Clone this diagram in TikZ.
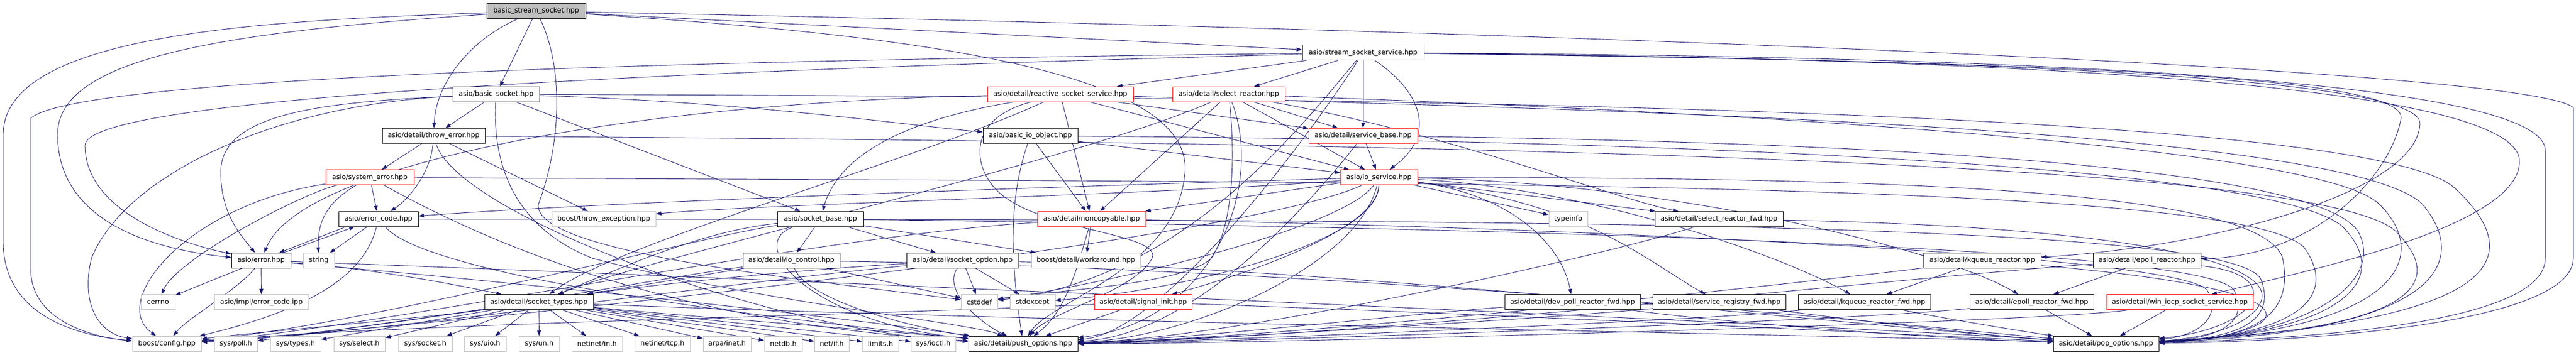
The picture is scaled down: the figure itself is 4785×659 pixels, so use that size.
\documentclass[tikz,border=0pt]{standalone}
\usepackage{fontspec}
\setmainfont{DejaVu Sans}
\usetikzlibrary{arrows.meta}
\pgfdeclarelayer{bg}
\pgfsetlayers{bg,main}
\definecolor{ecol}{HTML}{191970}
\definecolor{gbord}{HTML}{BFBFBF}
\definecolor{rbord}{HTML}{FF0000}
\tikzset{
 box/.style={draw=black, fill=white, line width=1pt, inner sep=0pt, minimum height=28pt, font=\fontsize{12.7}{15}\selectfont, text=black},
 gbox/.style={box, draw=gbord},
 rbox/.style={box, draw=rbord},
 e/.style={draw=ecol, line width=0.9pt, -{Triangle[length=10pt,width=7pt]}},
}
\begin{document}
\begin{tikzpicture}[x=1pt,y=-1pt]
\useasboundingbox (0,0) rectangle (4785,659);
% row 0
\node[box, fill=gbord, minimum width=184pt] (bss) at (996,20.6) {basic\_stream\_socket.hpp};
% row 1
\node[box, minimum width=226pt] (sss) at (2532,97.9) {asio/stream\_socket\_service.hpp};
% row 2
\node[box, minimum width=161pt] (bs) at (921.5,175.2) {asio/basic\_socket.hpp};
\node[rbox, minimum width=271pt] (rss) at (1969.5,175.2) {asio/detail/reactive\_socket\_service.hpp};
\node[rbox, minimum width=209pt] (sr) at (2282.5,175.2) {asio/detail/select\_reactor.hpp};
% row 3
\node[box, minimum width=191pt] (te) at (805.5,252.5) {asio/detail/throw\_error.hpp};
\node[box, minimum width=176pt] (bio) at (1914,252.5) {asio/basic\_io\_object.hpp};
\node[rbox, minimum width=202pt] (sb) at (2532,252.5) {asio/detail/service\_base.hpp};
% row 4
\node[rbox, minimum width=164pt] (se) at (687,329.8) {asio/system\_error.hpp};
\node[rbox, minimum width=143pt] (ios) at (2561.5,329.8) {asio/io\_service.hpp};
% row 5
\node[box, minimum width=148pt] (ec) at (703,407.1) {asio/error\_code.hpp};
\node[gbox, minimum width=193pt] (bte) at (1121.5,407.1) {boost/throw\_exception.hpp};
\node[box, minimum width=160pt] (sbase) at (1524,407.1) {asio/socket\_base.hpp};
\node[rbox, minimum width=201pt] (nc) at (2027.5,407.1) {asio/detail/noncopyable.hpp};
\node[gbox, minimum width=72pt] (ti) at (2913,407.1) {typeinfo};
\node[box, minimum width=238pt] (srf) at (3193,407.1) {asio/detail/select\_reactor\_fwd.hpp};
% row 6
\node[box, minimum width=110pt] (err) at (485,484.4) {asio/error.hpp};
\node[gbox, minimum width=58pt] (str) at (592,484.4) {string};
\node[box, minimum width=180pt] (ioc) at (1470,484.4) {asio/detail/io\_control.hpp};
\node[box, minimum width=208pt] (so) at (1788,484.4) {asio/detail/socket\_option.hpp};
\node[gbox, minimum width=202pt] (wa) at (2017,484.4) {boost/detail/workaround.hpp};
\node[box, minimum width=218pt] (kr) at (3682,484.4) {asio/detail/kqueue\_reactor.hpp};
\node[box, minimum width=200pt] (er) at (3988,484.4) {asio/detail/epoll\_reactor.hpp};
% row 7
\node[gbox, minimum width=63pt] (cerrno) at (293.5,561.7) {cerrno};
\node[gbox, minimum width=175pt] (ecipp) at (485.5,561.7) {asio/impl/error\_code.ipp};
\node[box, minimum width=202pt] (st) at (1001,561.7) {asio/detail/socket\_types.hpp};
\node[gbox, minimum width=68pt] (cstddef) at (1819,561.7) {cstddef};
\node[gbox, minimum width=84pt] (stdexcept) at (1918,561.7) {stdexcept};
\node[rbox, minimum width=181pt] (si) at (2123.5,561.7) {asio/detail/signal\_init.hpp};
\node[box, minimum width=252pt] (dprf) at (2921,561.7) {asio/detail/dev\_poll\_reactor\_fwd.hpp};
\node[box, minimum width=247pt] (srgf) at (3193.5,561.7) {asio/detail/service\_registry\_fwd.hpp};
\node[box, minimum width=246pt] (krf) at (3463,561.7) {asio/detail/kqueue\_reactor\_fwd.hpp};
\node[box, minimum width=230pt] (erf) at (3774,561.7) {asio/detail/epoll\_reactor\_fwd.hpp};
\node[rbox, minimum width=272pt] (wiss) at (4049,561.7) {asio/detail/win\_iocp\_socket\_service.hpp};
% row 8
\node[gbox, minimum width=128pt] (bc) at (310,639) {boost/config.hpp};
\node[gbox, minimum width=80pt] (poll) at (438,639) {sys/poll.h};
\node[gbox, minimum width=94pt] (types) at (549,639) {sys/types.h};
\node[gbox, minimum width=95pt] (select) at (667.5,639) {sys/select.h};
\node[gbox, minimum width=100pt] (socket) at (790,639) {sys/socket.h};
\node[gbox, minimum width=78pt] (uio) at (901,639) {sys/uio.h};
\node[gbox, minimum width=75pt] (un) at (1001.5,639) {sys/un.h};
\node[gbox, minimum width=94pt] (in) at (1109,639) {netinet/in.h};
\node[gbox, minimum width=103pt] (tcp) at (1230.5,639) {netinet/tcp.h};
\node[gbox, minimum width=89pt] (inet) at (1350.5,639) {arpa/inet.h};
\node[gbox, minimum width=70pt] (netdb) at (1455,639) {netdb.h};
\node[gbox, minimum width=64pt] (if) at (1545,639) {net/if.h};
\node[gbox, minimum width=67pt] (limits) at (1635.5,639) {limits.h};
\node[gbox, minimum width=83pt] (ioctl) at (1733.5,639) {sys/ioctl.h};
\node[box, minimum width=203pt] (push) at (1900.5,639) {asio/detail/push\_options.hpp};
\node[box, minimum width=196pt] (pop) at (3912,639) {asio/detail/pop\_options.hpp};

\begin{pgfonlayer}{bg}
\fill[white] (0,0) rectangle (4785,659);
% bss
\draw[e] (bss) .. controls (500,38) and (6,60) .. (6,250) -- (6,450) .. controls (6,590) and (150,625) .. (bc);
\draw[e] (bss) .. controls (400,60) and (107,110) .. (107,250) .. controls (107,420) and (300,465) .. (err);
\draw[e] (bss) .. controls (880,70) and (810,150) .. (te);
\draw[e] (bss) -- (bs);
\draw[e] (bss) -- (sss);
\draw[e] (bss) .. controls (1800,70) and (2230,150) .. (2200,330) .. controls (2180,500) and (1950,560) .. (push);
\draw[e] (bss) .. controls (1045,120) and (1045,260) .. (1000,380) .. controls (990,470) and (1500,520) .. (cstddef);
\draw[e] (bss) .. controls (3000,60) and (4700,130) .. (4780,200) -- (4780,480) .. controls (4780,600) and (4300,635) .. (pop);
% sss
\draw[e] (sss) .. controls (1500,110) and (150,135) .. (57,220) -- (57,500) .. controls (57,600) and (180,628) .. (bc);
\draw[e] (sss) .. controls (1500,125) and (160,170) .. (158,270) .. controls (158,400) and (350,455) .. (err);
\draw[e] (sss) -- (sb);
\draw[e] (sss) .. controls (2640,170) and (2670,250) .. (ios);
\draw[e] (sss) -- (rss);
\draw[e] (sss) -- (sr);
\draw[e] (sss) .. controls (2420,230) and (2200,520) .. (cstddef);
\draw[e] (sss) .. controls (2400,300) and (2150,620) .. (push);
\draw[e] (sss) .. controls (3800,105) and (4728,150) .. (4728,280) -- (4728,480) .. controls (4728,600) and (4300,630) .. (pop);
\draw[e] (sss) .. controls (3800,110) and (4680,160) .. (4680,300) .. controls (4680,420) and (4300,500) .. (wiss);
\draw[e] (sss) .. controls (3800,115) and (4470,140) .. (4460,220) .. controls (4440,330) and (4300,475) .. (er);
\draw[e] (sss) .. controls (3800,112) and (4500,150) .. (4495,230) .. controls (4490,360) and (4100,460) .. (kr);
% bs
\draw[e] (bs) -- (te);
\draw[e] (bs) .. controls (1400,190) and (1700,235) .. (bio);
\draw[e] (bs) -- (sbase);
\draw[e] (bs) .. controls (600,190) and (410,210) .. (410,320) .. controls (410,400) and (450,440) .. (err);
\draw[e] (bs) .. controls (500,195) and (230,330) .. (170,480) .. controls (150,560) and (180,620) .. (bc);
\draw[e] (bs) .. controls (915,300) and (950,420) .. (1100,480) .. controls (1400,560) and (1800,600) .. (push);
\draw[e] (bs) .. controls (2500,180) and (4400,200) .. (4560,350) .. controls (4700,480) and (4650,600) .. (pop);
% rss
\draw[e] (rss) -- (nc);
\draw[e] (rss) -- (sb);
\draw[e] (rss) -- (ios);
\draw[e] (rss) .. controls (1700,220) and (1560,280) .. (sbase);
\draw[e] (rss) .. controls (1200,190) and (560,300) .. (err);
\draw[e] (rss) .. controls (1700,300) and (1150,450) .. (st);
\draw[e] (rss) .. controls (1800,220) and (1810,300) .. (1840,340) .. controls (1900,430) and (2160,430) .. (2140,480) .. controls (2110,540) and (1950,580) .. (push);
\draw[e] (rss) .. controls (2800,200) and (4350,230) .. (4500,380) .. controls (4600,500) and (4500,620) .. (pop);
% sr
\draw[e] (sr) -- (nc);
\draw[e] (sr) -- (ios);
\draw[e] (sr) -- (sb);
\draw[e] (sr) .. controls (2295,300) and (2290,420) .. (2250,480) .. controls (2200,530) and (1950,540) .. (cstddef);
\draw[e] (sr) .. controls (2700,250) and (3000,370) .. (srf);
\draw[e] (sr) .. controls (2000,300) and (1200,480) .. (st);
\draw[e] (sr) .. controls (2350,350) and (2250,600) .. (push);
\draw[e] (sr) .. controls (3000,200) and (4300,260) .. (4420,380) .. controls (4520,480) and (4450,615) .. (pop);
% te
\draw[e] (te) -- (se);
\draw[e] (te) .. controls (800,320) and (760,370) .. (ec);
\draw[e] (te) -- (bte);
\draw[e] (te) .. controls (850,400) and (1450,620) .. (push);
\draw[e] (te) .. controls (2500,265) and (4300,290) .. (4450,430) .. controls (4560,540) and (4450,615) .. (pop);
% bio
\draw[e] (bio) -- (nc);
\draw[e] (bio) -- (ios);
\draw[e] (bio) .. controls (1870,380) and (1880,500) .. (push);
\draw[e] (bio) .. controls (3000,260) and (4200,300) .. (4350,420) .. controls (4450,520) and (4350,620) .. (pop);
% sb
\draw[e] (sb) -- (ios);
\draw[e] (sb) .. controls (2400,420) and (2200,625) .. (push);
\draw[e] (sb) .. controls (3500,265) and (4300,310) .. (4380,430) .. controls (4430,520) and (4300,625) .. (pop);
% se
\draw[e] (se) -- (ec);
\draw[e] (se) .. controls (600,380) and (590,420) .. (str);
\draw[e] (se) .. controls (560,360) and (330,480) .. (cerrno);
\draw[e] (se) .. controls (350,380) and (200,560) .. (bc);
\draw[e] (se) .. controls (850,420) and (1200,600) .. (push);
\draw[e] (se) .. controls (2500,340) and (4150,330) .. (4280,460) .. controls (4350,560) and (4250,625) .. (pop);
% ios
\draw[e] (ios) -- (ti);
\draw[e] (ios) .. controls (2800,360) and (2900,450) .. (dprf);
\draw[e] (ios) -- (srf);
\draw[e] (ios) .. controls (2950,380) and (3050,480) .. (srgf);
\draw[e] (ios) .. controls (2950,350) and (3300,470) .. (krf);
\draw[e] (ios) .. controls (3100,340) and (3600,460) .. (erf);
\draw[e] (ios) .. controls (2500,420) and (2100,520) .. (cstddef);
\draw[e] (ios) .. controls (2560,450) and (2200,540) .. (stdexcept);
\draw[e] (ios) .. controls (2560,420) and (2350,500) .. (si);
\draw[e] (ios) .. controls (2300,450) and (900,600) .. (bc);
\draw[e] (ios) .. controls (2200,360) and (1400,380) .. (bte);
\draw[e] (ios) .. controls (2200,340) and (1200,370) .. (ec);
\draw[e] (ios) -- (nc);
\draw[e] (ios) .. controls (2520,500) and (2200,630) .. (push);
\draw[e] (ios) .. controls (3500,330) and (4200,350) .. (4240,480) .. controls (4260,580) and (4200,630) .. (pop);
% ec
\draw[e] (ec) -- (str);
\draw[e] ([xshift=14pt]ec.south west) -- ([xshift=-22pt]err.north east);
\draw[e] ([xshift=-14pt]err.north east) -- ([xshift=30pt]ec.south west);
\draw[e] (ec) .. controls (680,500) and (600,570) .. (bc);
\draw[e] (ec) .. controls (800,520) and (1500,600) .. (push);
\draw[e] (ec) .. controls (2500,410) and (4150,400) .. (4200,520) .. controls (4230,600) and (4150,630) .. (pop);
% sbase
\draw[e] (sbase) -- (ioc);
\draw[e] (sbase) -- (so);
\draw[e] (sbase) -- (wa);
\draw[e] (sbase) .. controls (1300,430) and (1150,500) .. (st);
\draw[e] (sbase) .. controls (1300,440) and (700,600) .. (bc);
\draw[e] (sbase) .. controls (1380,450) and (1500,600) .. (push);
\draw[e] (sbase) .. controls (2500,420) and (4100,450) .. (4150,540) .. controls (4180,600) and (4120,630) .. (pop);
% nc
\draw[e] (nc) -- (wa);
\draw[e] (nc) .. controls (1500,440) and (700,610) .. (bc);
\draw[e] (nc) .. controls (2000,500) and (1980,580) .. (push);
\draw[e] (nc) .. controls (2800,420) and (4050,470) .. (4100,540) .. controls (4130,590) and (4080,625) .. (pop);
% srf
\draw[e] (srf) .. controls (3000,470) and (2300,630) .. (push);
\draw[e] (srf) .. controls (3900,420) and (4230,480) .. (4200,560) .. controls (4180,610) and (4080,630) .. (pop);
% err
\draw[e] (err) -- (cerrno);
\draw[e] (err) -- (ecipp);
\draw[e] (err) .. controls (440,540) and (350,590) .. (bc);
\draw[e] (err) .. controls (700,500) and (850,530) .. (st);
\draw[e] (err) .. controls (800,510) and (1500,580) .. (push);
\draw[e] (err) .. controls (1500,520) and (3500,610) .. (pop);
% ioc
\draw[e] (ioc) -- (cstddef);
\draw[e] (ioc) -- (st);
\draw[e] (ioc) .. controls (1200,520) and (700,620) .. (bc);
\draw[e] (ioc) .. controls (1500,560) and (1700,610) .. (push);
\draw[e] (ioc) .. controls (2500,500) and (3500,600) .. (pop);
% so
\draw[e] (so) -- (cstddef);
\draw[e] (so) -- (stdexcept);
\draw[e] (so) .. controls (1500,500) and (1200,530) .. (st);
\draw[e] (so) .. controls (1750,540) and (1820,600) .. (push);
\draw[e] (so) .. controls (2500,500) and (3500,610) .. (pop);
\draw[e] (so) .. controls (1400,520) and (700,620) .. (bc);
% kr
\draw[e] (kr) -- (krf);
\draw[e] (kr) .. controls (3400,520) and (2400,630) .. (push);
\draw[e] (kr) .. controls (4100,520) and (4250,560) .. (4200,600) .. controls (4150,630) and (4050,635) .. (pop);
% er
\draw[e] (er) -- (erf);
\draw[e] (er) .. controls (3600,510) and (2500,630) .. (push);
\draw[e] (er) .. controls (4250,510) and (4200,610) .. (pop);
% st
\draw[e] (st) .. controls (800,590) and (450,620) .. (bc);
\foreach \t in {poll,types,select,socket,uio,un,in,tcp,inet,netdb,if,limits,ioctl} {\draw[e] (st) -- (\t);}
\draw[e] (st) .. controls (1300,590) and (1700,620) .. (push);
\draw[e] (st) .. controls (2000,600) and (3500,625) .. (pop);
% si
\draw[e] (si) -- (push);
\draw[e] (si) .. controls (2800,585) and (3500,620) .. (pop);
\draw[e] (si) .. controls (1500,590) and (800,600) .. (bc);
% fwd headers
\draw[e] (dprf) .. controls (2600,585) and (2200,632) .. (push);
\draw[e] (dprf) .. controls (3200,600) and (3600,630) .. (pop);
\draw[e] (srgf) .. controls (2900,590) and (2200,634) .. (push);
\draw[e] (srgf) .. controls (3400,590) and (3700,625) .. (pop);
\draw[e] (krf) .. controls (3200,595) and (2200,636) .. (push);
\draw[e] (krf) .. controls (3600,590) and (3750,615) .. (pop);
\draw[e] (erf) .. controls (3400,600) and (2200,638) .. (push);
\draw[e] (erf) -- (pop);
\draw[e] (wiss) .. controls (3800,600) and (2300,640) .. (push);
\draw[e] (wiss) -- (pop);
\end{pgfonlayer}
\end{tikzpicture}
\end{document}
